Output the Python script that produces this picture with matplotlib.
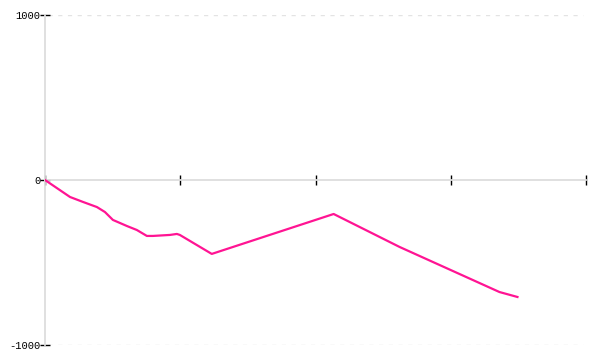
import matplotlib
matplotlib.use("Agg")
import matplotlib.pyplot as plt

# values
x_vals = [0, 0.185, 0.281, 0.384, 0.443, 0.502, 0.606, 0.679, 0.753, 0.798,
          0.923, 0.975, 0.997, 1.233, 2.134, 2.622, 3.360, 3.493]
y_vals = [0, -103, -133, -164, -194, -242, -279, -303, -339, -339,
          -333, -327, -333, -448, -206, -406, -679, -709]
x_ticks = [0, 1, 2, 3, 4]
y_ticks = [-1000, 0, 1000]

fig = plt.figure(figsize=(6, 3.6), dpi=100)
ax = fig.add_axes([0.075, 0.0417, 0.9017, 0.9166])

ax.plot(x_vals, y_vals, color="#ff1493", linewidth=1.6, zorder=3)

ax.set_xlim(0, 4)
ax.set_ylim(-1000, 1000)
ax.set_xticks(x_ticks)
ax.set_xticklabels([])
ax.set_yticks(y_ticks)
ax.set_yticklabels([str(v) for v in y_ticks], family="Liberation Mono", fontsize=7.6)

# dotted lines at the outer ticks only
for v in [y_ticks[0], y_ticks[-1]]:
    ax.axhline(v, xmin=0.005, xmax=0.995, linestyle=(0, (3, 4)),
               color="#e3e3e3", linewidth=1, zorder=1)

for side in ["top", "right"]:
    ax.spines[side].set_visible(False)
ax.spines["bottom"].set_position(("data", 0))
ax.spines["bottom"].set_color("#dddddd")
ax.spines["bottom"].set_linewidth(1.3)
ax.spines["left"].set_color("#dddddd")
ax.spines["left"].set_linewidth(1.3)

ax.tick_params(axis="x", direction="inout", length=7, width=1, color="black")
ax.tick_params(axis="y", direction="inout", length=7, width=1, color="black", pad=0)

fig.savefig("out.png", dpi=100)
